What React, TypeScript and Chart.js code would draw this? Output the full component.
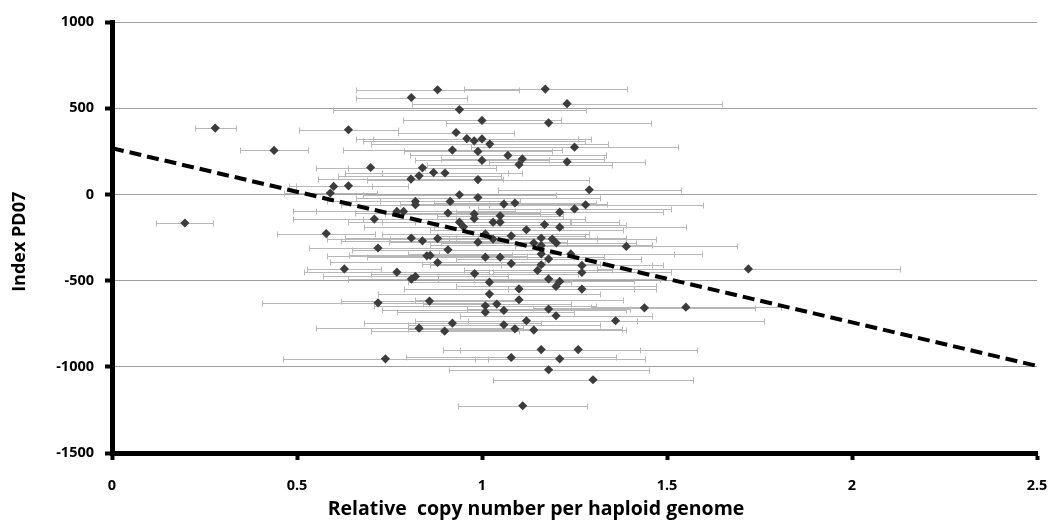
import React, { useEffect, useRef } from "react";
import { Chart, registerables } from "chart.js";

Chart.register(...registerables);

// Relative copy number per haploid genome (x) for each sample
const xValues = [
  0.279, 0.438, 0.197, 0.599, 0.639, 0.590, 0.639, 0.579, 0.628,
  0.880, 1.171, 0.809, 1.230, 0.939, 1.000, 1.180, 0.930, 0.959, 0.979,
  1.000, 1.021, 0.920, 0.989, 1.250, 1.070, 1.109, 1.000, 1.100, 1.230,
  0.699, 0.839, 0.869, 0.900, 0.830, 0.808, 0.989, 1.290, 0.939, 0.989,
  0.820, 0.820, 0.914, 1.059, 1.089, 1.280, 1.250, 0.770, 0.788, 0.908,
  0.979, 0.979, 1.049, 1.049, 1.210, 0.709, 0.939, 0.950, 1.030, 1.169,
  1.210, 1.120, 1.009, 1.079, 0.809, 0.839, 0.880, 0.989, 1.030, 1.160,
  1.190, 1.140, 1.201, 0.719, 0.908, 1.160, 1.160, 1.240, 0.860, 0.851,
  1.009, 1.049, 1.180, 0.880, 1.079, 1.160, 1.270, 0.770, 0.980, 1.150,
  1.270, 0.809, 0.820, 1.020, 1.180, 1.210, 1.200, 1.100, 1.270, 1.020,
  0.719, 0.858, 1.100, 1.009, 1.040, 1.059, 1.009, 1.180, 1.200, 1.120,
  0.920, 1.059, 0.830, 0.899, 1.089, 1.140, 1.160, 1.260, 0.739, 1.079,
  1.210, 1.180, 1.300, 1.110, 1.720, 1.439, 1.551, 1.361, 1.390,
];

// Index PD07 (y) for each sample
const yValues = [
  385, 255, -166, 46, 50, 8, 375, -227, -432,
  607, 611, 562, 526, 492, 429, 415, 359, 324, 311,
  322, 292, 257, 249, 274, 226, 206, 197, 173, 189,
  156, 154, 127, 124, 108, 89, 86, 27, -2, -18,
  -41, -60, -41, -56, -50, -60, -84, -99, -99, -108,
  -113, -140, -124, -161, -103, -143, -161, -188, -161, -175,
  -190, -205, -229, -240, -253, -269, -256, -277, -259, -253,
  -259, -282, -282, -311, -321, -296, -345, -345, -354, -356,
  -364, -364, -374, -395, -401, -408, -412, -451, -459, -441,
  -453, -491, -476, -509, -490, -505, -534, -548, -549, -578,
  -629, -619, -611, -646, -636, -673, -683, -665, -704, -733,
  -747, -756, -776, -793, -780, -787, -900, -900, -954, -946,
  -954, -1017, -1075, -1226, -432, -658, -654, -733, -302,
];

// Half-width of the horizontal error bar (x units) for each sample
const xErrors = [
  0.055, 0.092, 0.077, 0.103, 0.16, 0.126, 0.134, 0.133, 0.10,
  0.22, 0.22, 0.15, 0.42, 0.343, 0.213, 0.278, 0.156, 0.30, 0.30,
  0.295, 0.32, 0.297, 0.2, 0.28, 0.265, 0.22, 0.18, 0.25, 0.21,
  0.148, 0.2, 0.24, 0.17, 0.22, 0.25, 0.3, 0.248, 0.26, 0.33,
  0.24, 0.2, 0.19, 0.28, 0.22, 0.316, 0.26, 0.22, 0.3, 0.25,
  0.24, 0.3, 0.17, 0.32, 0.28, 0.22, 0.3, 0.27, 0.21, 0.22,
  0.34, 0.26, 0.28, 0.2, 0.18, 0.22, 0.3, 0.24, 0.28, 0.23,
  0.28, 0.25, 0.216, 0.186, 0.26, 0.3, 0.36, 0.355, 0.22, 0.27,
  0.32, 0.2, 0.25, 0.29, 0.24, 0.3, 0.22, 0.25, 0.28, 0.2,
  0.24, 0.17, 0.25, 0.22, 0.3, 0.2, 0.27, 0.31, 0.2, 0.3,
  0.313, 0.24, 0.28, 0.3, 0.2, 0.33, 0.24, 0.22, 0.26, 0.3,
  0.24, 0.26, 0.28, 0.2, 0.29, 0.25, 0.266, 0.32, 0.276, 0.284,
  0.23, 0.27, 0.27, 0.174, 0.41, 0.3, 0.257, 0.40, 0.3,
];

// Linear trend line end points
const trendX = [0, 2.5];
const trendY = [268, -995];

const xTicks = [0, 0.5, 1, 1.5, 2, 2.5];
const yTicks = [-1500, -1000, -500, 0, 500, 1000];

const xTitle = "Relative  copy number per haploid genome";
const yTitle = "Index PD07";

const FONT = "'Open Sans', 'DejaVu Sans', sans-serif";

const errorBarPlugin = {
  id: "hErrorBars",
  beforeDatasetsDraw(chart: any) {
    const { ctx } = chart;
    const xs = chart.scales.x;
    const ys = chart.scales.y;
    ctx.save();
    ctx.strokeStyle = "#b8b8b8";
    ctx.lineWidth = 1;
    ctx.beginPath();
    for (let i = 0; i < xValues.length; i++) {
      const x0 = Math.round(xs.getPixelForValue(xValues[i] - xErrors[i])) + 0.5;
      const x1 = Math.round(xs.getPixelForValue(xValues[i] + xErrors[i])) + 0.5;
      const py = Math.round(ys.getPixelForValue(yValues[i])) + 0.5;
      ctx.moveTo(x0, py);
      ctx.lineTo(x1, py);
      ctx.moveTo(x0, py - 3);
      ctx.lineTo(x0, py + 3);
      ctx.moveTo(x1, py - 3);
      ctx.lineTo(x1, py + 3);
    }
    ctx.stroke();
    ctx.restore();
  },
};

const axisTitlePlugin = {
  id: "axisTitles",
  afterDraw(chart: any) {
    const { ctx, chartArea } = chart;
    ctx.save();
    ctx.fillStyle = "#000";
    ctx.font = `bold 19.5px ${FONT}`;
    ctx.textAlign = "center";
    ctx.textBaseline = "middle";
    ctx.fillText(xTitle, 536, 509);
    ctx.translate(20, chartArea.top + (chartArea.bottom - chartArea.top) * 0.51);
    ctx.rotate(-Math.PI / 2);
    ctx.font = `bold 18px ${FONT}`;
    ctx.fillText(yTitle, 0, 0);
    ctx.restore();
  },
};

export default function App() {
  const canvasRef = useRef<HTMLCanvasElement | null>(null);

  useEffect(() => {
    document.body.style.margin = "0";
    const canvas = canvasRef.current;
    if (!canvas) return;
    const points = xValues.map((x, i) => ({ x, y: yValues[i] }));
    const trend = trendX.map((x, i) => ({ x, y: trendY[i] }));
    const tickFont = { family: FONT, size: 14.5, weight: "bold" as const };

    const chart = new Chart(canvas, {
      type: "scatter",
      data: {
        datasets: [
          {
            type: "line",
            data: trend,
            borderColor: "#000000",
            borderWidth: 4,
            borderDash: [12, 6],
            pointRadius: 0,
            fill: false,
            order: 0,
          } as any,
          {
            type: "scatter",
            data: points,
            pointStyle: "rectRot",
            pointRadius: 4.6,
            pointHoverRadius: 4.6,
            backgroundColor: "#3c3c3c",
            borderColor: "#3c3c3c",
            borderWidth: 0,
            order: 1,
          } as any,
        ],
      },
      options: {
        animation: false,
        responsive: false,
        events: [],
        layout: { padding: { top: 22, right: 5, left: 0, bottom: 0 } },
        plugins: {
          legend: { display: false },
          tooltip: { enabled: false },
        },
        scales: {
          x: {
            type: "linear",
            min: 0,
            max: 2.5,
            afterBuildTicks: (s: any) => {
              s.ticks = xTicks.map((v) => ({ value: v }));
            },
            afterFit: (s: any) => {
              s.height = 67;
              s.paddingLeft = 0;
              s.paddingRight = 14;
            },
            ticks: {
              font: tickFont,
              color: "#000",
              padding: 17,
              maxRotation: 0,
              callback: (v: any) => String(v),
            },
            grid: {
              drawOnChartArea: false,
              drawTicks: true,
              tickLength: 7,
              tickColor: "#000",
              tickWidth: 4,
            },
            border: { color: "#000", width: 5 },
          },
          y: {
            type: "linear",
            min: -1500,
            max: 1000,
            afterBuildTicks: (s: any) => {
              s.ticks = yTicks.map((v) => ({ value: v }));
            },
            afterFit: (s: any) => {
              s.width = 112;
            },
            ticks: {
              font: tickFont,
              color: "#000",
              padding: 11,
              callback: (v: any) => String(v),
            },
            grid: {
              color: "#a0a0a0",
              lineWidth: 1,
              tickLength: 7,
              tickColor: "#000",
              tickWidth: 4,
            },
            border: { color: "#000", width: 5 },
          },
        },
      },
      plugins: [errorBarPlugin, axisTitlePlugin],
    });
    return () => chart.destroy();
  }, []);

  return (
    <div style={{ position: "absolute", left: 0, top: 0, width: 1051, height: 520 }}>
      <canvas ref={canvasRef} width={1051} height={520} />
    </div>
  );
}
